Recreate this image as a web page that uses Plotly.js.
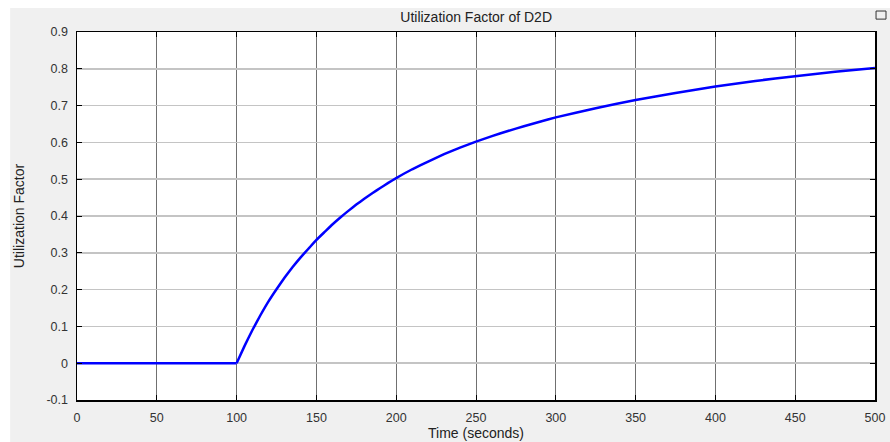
<!DOCTYPE html>
<html>
<head>
<meta charset="utf-8">
<script src="https://cdn.plot.ly/plotly-3.0.1.min.js"></script>
<style>html,body{margin:0;padding:0;background:#fff;}#chart{width:890px;height:442px;}</style>
</head>
<body>
<div id="chart"></div>
<script>
const timeSeconds = [0, 50, 100, 105, 110, 115, 120, 125, 130, 135, 140, 145, 150, 155, 160, 165, 170, 175, 180, 185, 190, 195, 200, 210, 220, 230, 240, 250, 260, 270, 280, 290, 300, 325, 350, 375, 400, 425, 450, 475, 500];
const utilization = [0, 0, 0, 0.047, 0.091, 0.131, 0.168, 0.201, 0.232, 0.261, 0.287, 0.311, 0.335, 0.356, 0.377, 0.396, 0.414, 0.431, 0.447, 0.462, 0.476, 0.49, 0.503, 0.527, 0.548, 0.568, 0.586, 0.602, 0.617, 0.631, 0.644, 0.656, 0.668, 0.693, 0.715, 0.734, 0.752, 0.767, 0.78, 0.792, 0.802];
const xTicks = [0, 50, 100, 150, 200, 250, 300, 350, 400, 450, 500];
const yTicks = [-0.1, 0, 0.1, 0.2, 0.3, 0.4, 0.5, 0.6, 0.7, 0.8, 0.9];
const yTickText = ['-0.1', '0', '0.1', '0.2', '0.3', '0.4', '0.5', '0.6', '0.7', '0.8', '0.9'];

const startIdx = timeSeconds.indexOf(100);
const flatTrace = {
  x: timeSeconds.slice(0, startIdx + 1), y: utilization.slice(0, startIdx + 1),
  type: 'scatter', mode: 'lines', line: {color: '#0000ff', width: 2.5}, hoverinfo: 'none'
};
const riseTrace = {
  x: timeSeconds.slice(startIdx), y: utilization.slice(startIdx),
  type: 'scatter', mode: 'lines', line: {color: '#0000ff', width: 2.5, shape: 'spline', smoothing: 0.3}, hoverinfo: 'none'
};
const tickFont = {family: 'Liberation Sans, Arial, sans-serif', size: 12.5, color: '#333'};
const layout = {
  width: 890, height: 442,
  margin: {l: 77, r: 15, t: 32, b: 42, pad: 0},
  paper_bgcolor: '#f0f0f0', plot_bgcolor: '#ffffff',
  showlegend: false,
  title: {text: 'Utilization Factor of D2D', font: {family: 'Liberation Sans, Arial, sans-serif', size: 14, color: '#222'}, x: 0.535, xanchor: 'center', y: 0.962, yanchor: 'middle'},
  xaxis: {
    range: [0, 500], tickvals: xTicks, ticktext: xTicks.map(String),
    showgrid: true, gridcolor: '#707070', gridwidth: 1,
    showline: true, linecolor: '#000', linewidth: 1.5, mirror: 'ticks',
    ticks: 'inside', ticklen: 5, tickcolor: '#000', zeroline: false,
    tickfont: tickFont, ticklabelstandoff: 5,
    title: {text: 'Time (seconds)', font: {family: 'Liberation Sans, Arial, sans-serif', size: 14, color: '#222'}, standoff: 4}
  },
  yaxis: {
    range: [-0.1, 0.9], tickvals: yTicks, ticktext: yTickText,
    showgrid: true, gridcolor: '#c4c4c4', gridwidth: 1.5,
    showline: true, linecolor: '#000', linewidth: 1.5, mirror: 'ticks',
    ticks: 'inside', ticklen: 5, tickcolor: '#000', zeroline: false,
    tickfont: tickFont, ticklabelstandoff: 5,
    title: {text: 'Utilization Factor', font: {family: 'Liberation Sans Narrow, Liberation Sans, Arial, sans-serif', size: 14, color: '#222'}, standoff: 18}
  },
  shapes: [
    {type: 'rect', xref: 'paper', yref: 'paper', x0: -0.2, x1: 1.1, y0: 1.0652, y1: 1.2, fillcolor: '#ffffff', line: {width: 0}, layer: 'below'},
    {type: 'rect', xref: 'paper', yref: 'paper', x0: -0.2, x1: -0.0838, y0: -0.2, y1: 1.2, fillcolor: '#ffffff', line: {width: 0}, layer: 'below'},
    {type: 'rect', xref: 'paper', yref: 'paper', x0: 1.0013, x1: 1.0138, y0: 1.035, y1: 1.057, fillcolor: 'rgba(0,0,0,0)', line: {width: 1, color: '#333'}, layer: 'above'}
  ]
};
Plotly.newPlot('chart', [flatTrace, riseTrace], layout, {staticPlot: true, displayModeBar: false});
</script>
</body>
</html>
